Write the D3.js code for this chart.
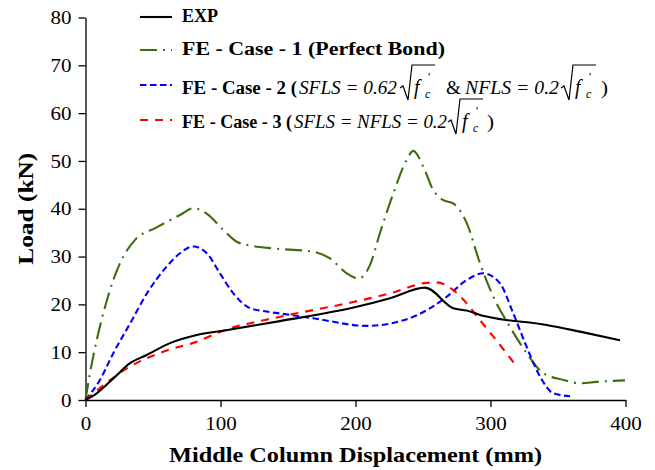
<!DOCTYPE html>
<html>
<head>
<meta charset="utf-8">
<script src="https://cdn.jsdelivr.net/npm/d3@7"></script>
<style>
  html, body { margin: 0; padding: 0; background: #fff; }
  svg { display: block; }
  text { font-family: "Liberation Serif", Tinos, "Times New Roman", "DejaVu Serif", serif; fill: #000; }
</style>
</head>
<body>
<svg id="chart" width="655" height="470"></svg>
<script>
// Load–displacement curves (displacement in mm, load in kN)
const expX   = [0, 8.3, 20.6, 33, 45.3, 62.6, 82.4, 102, 144, 200.9, 225.6, 251.5, 272.4, 282.4, 292.2, 299.6, 341.6, 366.3, 396];
const expY   = [0, 1.4, 4.5, 7.7, 9.4, 11.9, 13.6, 14.5, 16.5, 19.5, 21.3, 23.5, 19.2, 18.7, 17.8, 17.3, 15.7, 14.3, 12.5];

const case1X = [0, 3.3, 8.3, 14.4, 20.6, 28, 36.7, 52.7, 70, 79.9, 89.8, 102, 112, 124.3, 139.1, 168.7, 181.1, 193.5, 202.1, 210.7, 218.1, 228, 237.9, 242.8, 250.2, 257.6, 265, 272.4, 282.4, 292.2, 302.1, 314.4, 326.8, 339.1, 353.9, 366.3, 378.7, 399.6];
const case1Y = [0, 5.6, 12.5, 19.4, 25.1, 30, 33.5, 36.1, 38.7, 40.1, 39, 35.6, 33.1, 32.2, 31.7, 31, 29.6, 26.5, 25.4, 28.2, 34.9, 43.2, 50.2, 52.1, 48.8, 43.9, 41.8, 41.1, 37, 28.6, 21.6, 15.3, 9.8, 5.6, 4.2, 3.5, 3.8, 4.1];

const case2X = [0, 10.7, 20.6, 33, 45.3, 60.1, 70, 79.9, 89.8, 99.6, 109.5, 121.9, 134.2, 144, 168.7, 208.3, 242.8, 267.6, 282.4, 294.7, 307, 316.9, 326.8, 336.7, 346.5, 358.9];
const case2Y = [0, 4.2, 9.8, 16, 22.2, 27.9, 30.7, 32.1, 30.7, 26.5, 22.3, 19.2, 18.5, 18.1, 17.1, 15.5, 17.4, 21.6, 25.1, 26.5, 24.4, 18.1, 11.1, 4.9, 1.4, 0.8];

const case3X = [0, 33, 57.6, 82.4, 102, 144, 193.5, 225.6, 252.7, 260, 272.4, 282.4, 292.2, 304.6, 319.4];
const case3Y = [0, 7, 10.1, 12.2, 14.5, 17.4, 20.2, 22.3, 24.5, 24.6, 23, 20.2, 16.7, 12.4, 7.0];

const xTicks = [0, 100, 200, 300, 400];
const yTicks = [0, 10, 20, 30, 40, 50, 60, 70, 80];

const xTitle = "Middle Column Displacement (mm)";
const yTitle = "Load (kN)";

const FONT = "'Liberation Serif', Tinos, 'Times New Roman', 'DejaVu Serif', serif";

const svg = d3.select("#chart");
const plot = { left: 85.5, right: 625.5, top: 17.5, bottom: 400 };

const x = d3.scaleLinear().domain([0, 400]).range([plot.left, plot.right]);
const y = d3.scaleLinear().domain([0, 80]).range([plot.bottom, plot.top]);

// Axes
const xAxis = svg.append("g")
  .attr("transform", `translate(0,${plot.bottom})`)
  .call(d3.axisBottom(x).tickValues(xTicks).tickSize(7).tickPadding(5).tickSizeOuter(0));
const yAxis = svg.append("g")
  .attr("transform", `translate(${plot.left},0)`)
  .call(d3.axisLeft(y).tickValues(yTicks).tickSize(7).tickPadding(7).tickSizeOuter(0));

[xAxis, yAxis].forEach(g => {
  g.attr("font-family", FONT);
  g.select(".domain").attr("stroke", "#000").attr("stroke-width", 1.3);
  g.selectAll(".tick line").attr("stroke", "#000").attr("stroke-width", 1.3);
  g.selectAll(".tick text")
    .style("font-family", FONT)
    .attr("font-size", 19)
    .attr("fill", "#000")
    .attr("textLength", d => String(d).length * 10.5)
    .attr("lengthAdjust", "spacingAndGlyphs");
});
xAxis.selectAll(".tick text").attr("dy", "0.95em");

// Axis titles
svg.append("text")
  .style("font-family", FONT)
  .attr("x", (plot.left + plot.right) / 2)
  .attr("y", 462)
  .attr("text-anchor", "middle")
  .attr("font-size", 21)
  .attr("font-weight", "bold")
  .attr("textLength", 373)
  .attr("lengthAdjust", "spacingAndGlyphs")
  .text(xTitle);

svg.append("text")
  .style("font-family", FONT)
  .attr("transform", `translate(33,${(plot.top + plot.bottom) / 2}) rotate(-90)`)
  .attr("text-anchor", "middle")
  .attr("font-size", 21)
  .attr("font-weight", "bold")
  .attr("textLength", 112)
  .attr("lengthAdjust", "spacingAndGlyphs")
  .text(yTitle);

// Series
const series = [
  { name: "EXP",    xs: expX,   ys: expY,   color: "#000000", dash: null },
  { name: "Case 1", xs: case1X, ys: case1Y, color: "#3d6e0a", dash: "17,6,2,6" },
  { name: "Case 2", xs: case2X, ys: case2Y, color: "#0000ff", dash: "6.5,3.5" },
  { name: "Case 3", xs: case3X, ys: case3Y, color: "#ff0000", dash: "8,7" }
];

const line = d3.line()
  .x(d => x(d[0]))
  .y(d => y(d[1]))
  .curve(d3.curveMonotoneX);

const drawOrder = [1, 2, 3, 0];
drawOrder.forEach(i => {
  const s = series[i];
  svg.append("path")
    .datum(d3.zip(s.xs, s.ys))
    .attr("fill", "none")
    .attr("stroke", s.color)
    .attr("stroke-width", 2.1)
    .attr("stroke-dasharray", s.dash)
    .attr("d", line);
});

// Legend
const legend = svg.append("g");
const sampleY = [17, 50, 85, 120];
series.forEach((s, i) => {
  legend.append("line")
    .attr("x1", 140).attr("x2", 172)
    .attr("y1", sampleY[i]).attr("y2", sampleY[i])
    .attr("stroke", s.color)
    .attr("stroke-width", 2.1)
    .attr("stroke-dasharray", s.dash);
});

function label(g, str, xPos, yPos, opts) {
  const t = g.append("text")
    .style("font-family", FONT)
    .attr("x", xPos).attr("y", yPos)
    .attr("font-size", opts.size || 18)
    .text(str);
  if (opts.bold) t.attr("font-weight", "bold");
  if (opts.italic) t.attr("font-style", "italic");
  if (opts.len) t.attr("textLength", opts.len).attr("lengthAdjust", "spacingAndGlyphs");
  return t;
}

// square root of f'c drawn with a radical sign
function sqrtFc(g, x0, b) {
  g.append("path")
    .attr("d", `M${x0},${b - 6} L${x0 + 3},${b - 8} L${x0 + 8},${b + 6} L${x0 + 12},${b - 29} L${x0 + 35},${b - 29}`)
    .attr("fill", "none")
    .attr("stroke", "#000")
    .attr("stroke-width", 1.2)
    .attr("stroke-linejoin", "miter");
  label(g, "f", x0 + 14, b, { italic: true, size: 20 });
  label(g, "'", x0 + 28, b - 13, { size: 12 });
  label(g, "c", x0 + 25, b + 4, { italic: true, size: 12 });
}

label(legend, "EXP", 182, 22, { bold: true, len: 36 });
label(legend, "FE - Case - 1 (Perfect Bond)", 182, 55, { bold: true, len: 263 });

label(legend, "FE - Case - 2 (", 182, 94, { bold: true, len: 115 });
label(legend, "SFLS = 0.62", 299, 94, { italic: true, len: 98 });
sqrtFc(legend, 400, 94);
label(legend, "&", 446, 94, { len: 15 });
label(legend, "NFLS = 0.2", 465, 94, { italic: true, len: 94 });
sqrtFc(legend, 561, 94);
label(legend, ")", 601, 94, { len: 7 });

label(legend, "FE - Case - 3 (", 182, 128, { bold: true, len: 110 });
label(legend, "SFLS = NFLS = 0.2", 294, 128, { italic: true, len: 153 });
sqrtFc(legend, 448, 128);
label(legend, ")", 487, 128, { len: 7 });
</script>
</body>
</html>
